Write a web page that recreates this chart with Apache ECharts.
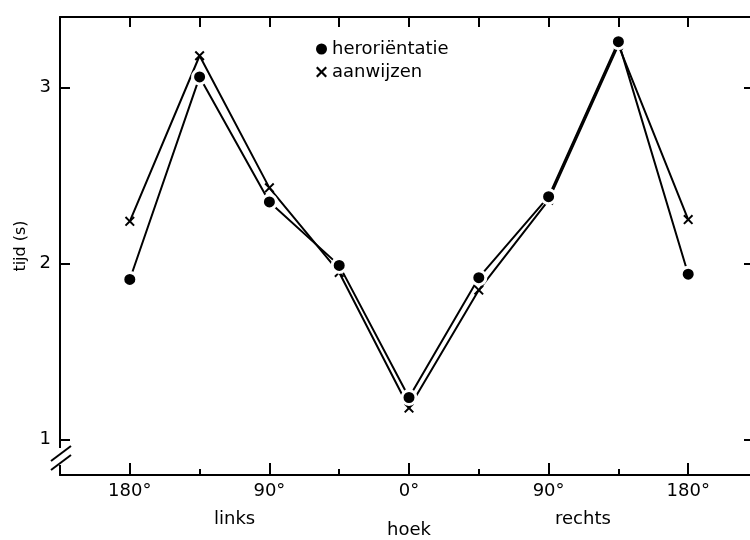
<!DOCTYPE html>
<html>
<head>
<meta charset="utf-8">
<script src="https://cdn.jsdelivr.net/npm/echarts@6/dist/echarts.min.js"></script>
<style>
html,body{margin:0;padding:0;background:#fff;}
#c{width:750px;height:540px;}
</style>
</head>
<body>
<div id="c"></div>
<script>
// positions along the angle axis: 180 links ... 0 ... 180 rechts
const positions = [0, 1, 2, 3, 4, 5, 6, 7, 8];
const tickLabels = ['180°', '', '90°', '', '0°', '', '90°', '', '180°'];
const heroriententatie = [1.91, 3.06, 2.35, 1.99, 1.24, 1.92, 2.38, 3.26, 1.94];
const aanwijzen = [2.24, 3.18, 2.43, 1.95, 1.18, 1.85, 2.36, 3.24, 2.25];
const yTicks = [1, 2, 3];
const seriesNames = ['heroriëntatie', 'aanwijzen'];

const FONT = "'DejaVu Sans', 'Liberation Sans', Arial, sans-serif";
const crossPath = 'path://M0,1.4 L1.4,0 L5,3.6 L8.6,0 L10,1.4 L6.4,5 L10,8.6 L8.6,10 L5,6.4 L1.4,10 L0,8.6 L3.6,5 Z';

const chart = echarts.init(document.getElementById('c'), null, {renderer: 'canvas'});

const pairs = (ys) => positions.map((p, i) => [p, ys[i]]);

const lineAxis = {show: true, onZero: false, lineStyle: {color: '#000', width: 2}};

chart.setOption({
  animation: false,
  backgroundColor: '#fff',
  textStyle: {fontFamily: FONT, color: '#000'},
  grid: {left: 60, top: 17, width: 698, height: 458, outerBoundsMode: 'none', containLabel: false},
  legend: {
    orient: 'vertical', left: 311, top: 35, itemWidth: 11, itemHeight: 11, itemGap: 5,
    textStyle: {fontSize: 18, color: '#000', fontFamily: FONT},
    data: [
      {name: seriesNames[0], icon: 'circle', itemStyle: {borderWidth: 0}},
      {name: seriesNames[1], icon: crossPath, itemStyle: {borderWidth: 0}}
    ]
  },
  xAxis: [
    {
      type: 'value', min: -1, max: 9, interval: 1, position: 'bottom',
      name: 'hoek', nameLocation: 'middle', nameGap: 46,
      nameTextStyle: {fontSize: 18, color: '#000', fontFamily: FONT},
      axisLine: lineAxis, splitLine: {show: false},
      axisTick: {show: true, inside: true, length: 12, lineStyle: {color: '#000', width: 2}, customValues: [0, 2, 4, 6, 8]},
      axisLabel: {show: true, margin: 7, fontSize: 18, color: '#000', fontFamily: FONT,
        customValues: [0, 2, 4, 6, 8], formatter: v => tickLabels[Math.round(v)] || ''}
    },
    {
      type: 'value', min: -1, max: 9, interval: 1, position: 'bottom',
      axisLine: {show: false, onZero: false}, splitLine: {show: false},
      axisTick: {show: true, inside: true, length: 6, lineStyle: {color: '#000', width: 2}, customValues: [1, 3, 5, 7]},
      axisLabel: {show: false}
    },
    {
      type: 'value', min: -1, max: 9, interval: 1, position: 'top',
      axisLine: lineAxis, splitLine: {show: false},
      axisTick: {show: true, inside: true, length: 10, lineStyle: {color: '#000', width: 2}, customValues: positions},
      axisLabel: {show: false}
    }
  ],
  yAxis: [
    {
      type: 'value', min: 0.8, max: 3.4, position: 'left',
      name: 'tijd (s)', nameLocation: 'middle', nameGap: 31, nameRotate: 90,
      nameTextStyle: {fontSize: 16, color: '#000', fontFamily: FONT},
      axisLine: lineAxis, splitLine: {show: false},
      axisTick: {show: true, inside: true, length: 10, lineStyle: {color: '#000', width: 2}, customValues: yTicks},
      axisLabel: {show: true, margin: 9, fontSize: 18, color: '#000', fontFamily: FONT, customValues: yTicks}
    },
    {
      type: 'value', min: 0.8, max: 3.4, position: 'right',
      axisLine: lineAxis, splitLine: {show: false},
      axisTick: {show: true, inside: true, length: 14, lineStyle: {color: '#000', width: 2}, customValues: yTicks},
      axisLabel: {show: false}
    }
  ],
  series: [
    {
      name: seriesNames[0], type: 'line', xAxisIndex: 0, yAxisIndex: 0,
      data: pairs(heroriententatie),
      symbol: 'circle', symbolSize: 14,
      lineStyle: {color: '#000', width: 2},
      itemStyle: {color: '#000', borderColor: '#fff', borderWidth: 3},
      z: 3
    },
    {
      name: seriesNames[1], type: 'line', xAxisIndex: 0, yAxisIndex: 0,
      data: pairs(aanwijzen),
      symbol: crossPath, symbolSize: 10,
      lineStyle: {color: '#000', width: 2},
      itemStyle: {color: '#000', borderWidth: 0},
      z: 2
    }
  ],
  graphic: [
    {type: 'text', left: 214, top: 510, style: {text: 'links', font: '18px ' + FONT, fill: '#000'}},
    {type: 'text', left: 555, top: 510, style: {text: 'rechts', font: '18px ' + FONT, fill: '#000'}},
    {type: 'rect', shape: {x: 54, y: 448, width: 12, height: 17}, style: {fill: '#fff'}, z: 100},
    {type: 'line', shape: {x1: 51, y1: 461, x2: 71, y2: 446}, style: {stroke: '#000', lineWidth: 2}, z: 101},
    {type: 'line', shape: {x1: 51, y1: 470, x2: 71, y2: 455}, style: {stroke: '#000', lineWidth: 2}, z: 101}
  ]
});
</script>
</body>
</html>
